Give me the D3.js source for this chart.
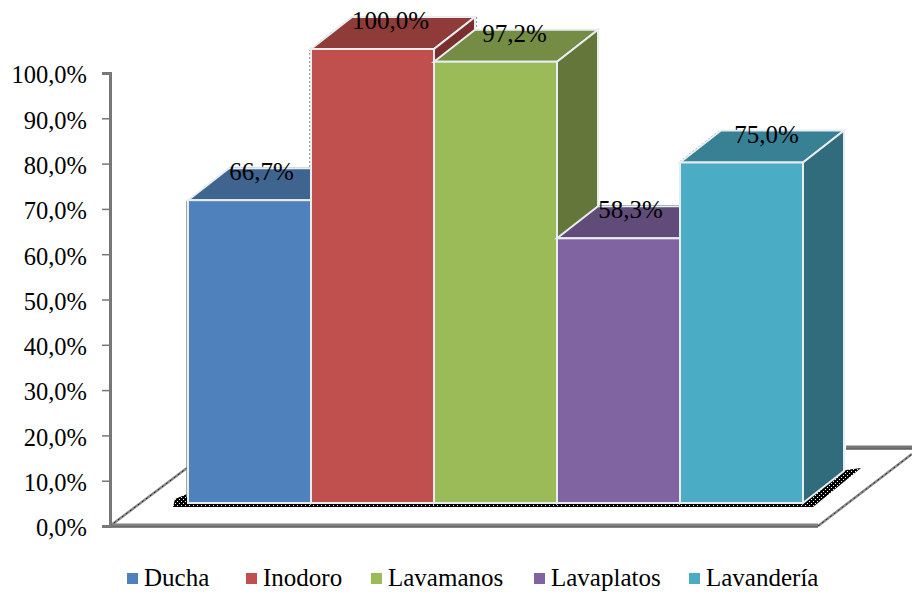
<!DOCTYPE html>
<html>
<head>
<meta charset="utf-8">
<script src="https://cdn.jsdelivr.net/npm/d3@7"></script>
<style>
  html, body { margin: 0; padding: 0; background: #fff; }
  text { font-family: "Liberation Serif", serif; fill: #000; }
</style>
</head>
<body>
<div id="viz-container"></div>
<script>
const categories = ['Ducha', 'Inodoro', 'Lavamanos', 'Lavaplatos', 'Lavandería'];
const values = [0.667, 1.0, 0.972, 0.583, 0.75];
const valueLabels = ['66,7%', '100,0%', '97,2%', '58,3%', '75,0%'];
const tickValues = [0, 0.1, 0.2, 0.3, 0.4, 0.5, 0.6, 0.7, 0.8, 0.9, 1];
const frontColors = ['#4f81bd', '#c0504d', '#9bbb59', '#8064a2', '#4bacc6'];
const topColors = ['#3e648f', '#8f3b39', '#748c43', '#604b79', '#388194'];
const sideColors = ['#345378', '#7a2f2d', '#64763a', '#523f68', '#316c7c'];

// labels sit a bit off centre on the bar tops
const labelShift = [12, 18, 19, 12, 25];
const legendSwatchX = [127, 246, 371, 534, 689];

const depthX = 41;
const depthY = -32;

let viz = d3.select('#viz-container')
  .append('svg')
    .attr('width', 912)
    .attr('height', 595)
    .style('display', 'block');

// coarse black and white grain for the floor shadow
let grain = viz.append('defs').append('pattern')
    .attr('id', 'grain')
    .attr('width', 4)
    .attr('height', 4)
    .attr('patternUnits', 'userSpaceOnUse');
grain.append('rect').attr('width', 4).attr('height', 4).attr('fill', '#000');
grain.append('rect').attr('x', 1).attr('y', 1).attr('width', 1).attr('height', 1).attr('fill', '#fff');
grain.append('rect').attr('x', 3).attr('y', 3).attr('width', 1).attr('height', 1).attr('fill', '#fff');

let x = d3.scaleBand().domain(categories).range([188, 803]);
let yFront = d3.scaleLinear().domain([0, 1]).range([503, 49]);
let yAxis = d3.scaleLinear().domain([0, 1]).range([526, 73]);

function poly(points) {
  return d3.line()(points) + 'Z';
}

// floor outline
viz.append('path')
  .attr('d', 'M110,526L187,468M818,526L912,454')
  .attr('fill', 'none')
  .attr('stroke', '#888')
  .attr('stroke-width', 2.5);
viz.append('path')
  .attr('d', 'M110,526L187,468M818,526L912,454')
  .attr('fill', 'none')
  .attr('stroke', '#222')
  .attr('stroke-width', 1)
  .attr('stroke-dasharray', '2 3');
viz.append('line')
  .attr('x1', 846).attr('x2', 912).attr('y1', 447).attr('y2', 447)
  .attr('stroke', '#777').attr('stroke-width', 3);
viz.append('line')
  .attr('x1', 846).attr('x2', 912).attr('y1', 449).attr('y2', 449)
  .attr('stroke', '#111').attr('stroke-width', 1);
viz.append('line')
  .attr('x1', 110).attr('x2', 818).attr('y1', 525).attr('y2', 525)
  .attr('stroke', '#808080').attr('stroke-width', 3);
viz.append('line')
  .attr('x1', 110).attr('x2', 818).attr('y1', 527).attr('y2', 527)
  .attr('stroke', '#111').attr('stroke-width', 1);

// shadow under the bars
viz.append('path')
  .attr('d', poly([[173, 507], [175, 499], [187, 494], [187, 502], [803, 502], [846, 470], [861, 468], [813, 507]]))
  .attr('fill', 'url(#grain)');

// value axis
let axis = d3.axisLeft(yAxis)
  .tickValues(tickValues)
  .tickFormat(d => d3.format('.1f')(d * 100).replace('.', ',') + '%')
  .tickSize(8)
  .tickPadding(15);
let axisGroup = viz.append('g')
  .attr('transform', 'translate(110,0)')
  .call(axis);
axisGroup.select('.domain')
  .attr('stroke', '#777')
  .attr('stroke-width', 3);
axisGroup.selectAll('.tick line')
  .attr('stroke', '#777')
  .attr('stroke-width', 1.5);
axisGroup.selectAll('.tick text')
  .attr('font-size', 24.5)
  .attr('dy', '0.4em')
  .style('font-family', '"Liberation Serif", serif')
  .attr('fill', '#000');

// faint edges behind the bars
viz.append('path')
  .attr('d', 'M187,201L187,497')
  .attr('stroke', '#888')
  .attr('stroke-width', 1.5)
  .attr('fill', 'none');
viz.append('path')
  .attr('d', 'M310,49L310,170M311,49L352,17M476,17L476,30M188,201L229,169M680,162L721,130')
  .attr('stroke', '#777')
  .attr('stroke-width', 1.5)
  .attr('stroke-dasharray', '2 2')
  .attr('fill', 'none');
viz.append('path')
  .attr('d', 'M229,168L311,168')
  .attr('stroke', '#888')
  .attr('stroke-width', 1.5);
viz.append('path')
  .attr('d', 'M598,205.5L680,205.5')
  .attr('stroke', '#111')
  .attr('stroke-width', 1);

// bars are painted left to right so the nearer faces overlap correctly
let bars = viz.selectAll('g.bar').data(categories).enter()
  .append('g')
    .attr('class', 'bar');

bars.append('path')
  .attr('d', (d, i) => {
    let l = x(d), r = l + x.bandwidth(), t = yFront(values[i]);
    return poly([[l, t], [l + depthX, t + depthY], [r + depthX, t + depthY], [r, t]]);
  })
  .attr('fill', (d, i) => topColors[i])
  .attr('stroke', '#e8eef0')
  .attr('stroke-width', 2);

bars.append('path')
  .attr('d', (d, i) => {
    let r = x(d) + x.bandwidth(), t = yFront(values[i]), b = yFront(0);
    return poly([[r, t], [r + depthX, t + depthY], [r + depthX, b + depthY], [r, b]]);
  })
  .attr('fill', (d, i) => sideColors[i])
  .attr('stroke', '#e8eef0')
  .attr('stroke-width', 2);

bars.append('rect')
  .attr('x', d => x(d))
  .attr('y', (d, i) => yFront(values[i]))
  .attr('width', x.bandwidth())
  .attr('height', (d, i) => yFront(0) - yFront(values[i]))
  .attr('fill', (d, i) => frontColors[i])
  .attr('stroke', '#e8eef0')
  .attr('stroke-width', 2);

// value labels go on after every bar so none is covered
viz.selectAll('text.value').data(categories).enter()
  .append('text')
    .attr('class', 'value')
    .attr('x', (d, i) => x(d) + x.bandwidth() / 2 + labelShift[i])
    .attr('y', (d, i) => yFront(values[i]) - 20)
    .attr('text-anchor', 'middle')
    .attr('font-size', 25)
    .text((d, i) => valueLabels[i]);

// legend
let legend = viz.selectAll('g.legend').data(categories).enter()
  .append('g')
    .attr('class', 'legend')
    .attr('transform', (d, i) => 'translate(' + legendSwatchX[i] + ',573)');
legend.append('rect')
  .attr('width', 11)
  .attr('height', 11)
  .attr('fill', (d, i) => frontColors[i]);
legend.append('text')
  .attr('x', 17)
  .attr('y', 13)
  .attr('font-size', 25)
  .text(d => d);
</script>
</body>
</html>
